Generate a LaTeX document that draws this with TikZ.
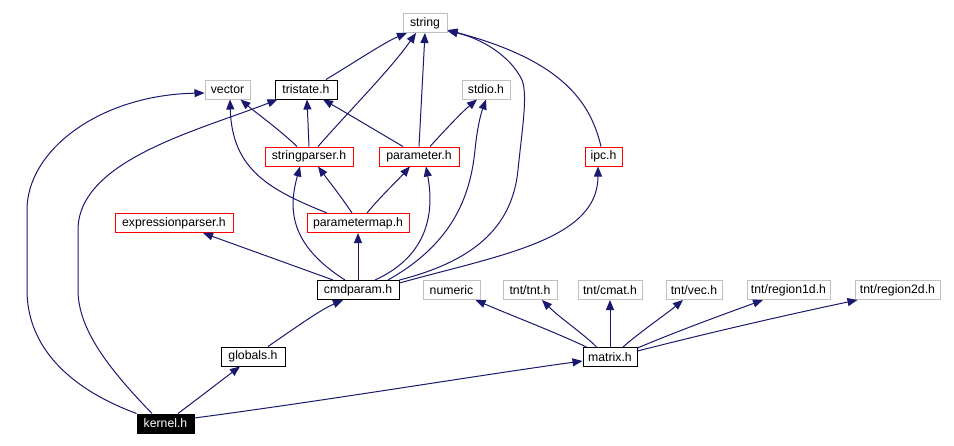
\documentclass[tikz,border=0pt]{standalone}
\usepackage{fontspec}
\setmainfont{Liberation Sans}
\usetikzlibrary{arrows.meta,calc}
\definecolor{edgec}{HTML}{191970}
\definecolor{extc}{HTML}{BFBFBF}
\begin{document}
\begin{tikzpicture}[x=0.75pt,y=-0.75pt,
  nd/.style={draw, rectangle, inner sep=0pt, minimum height=14.25pt, line width=0.75pt, font=\fontsize{9.2}{11}\selectfont, text=black},
  ext/.style={nd, draw=extc},
  blk/.style={nd, draw=black},
  rd/.style={nd, draw=red},
  kern/.style={nd, draw=black, fill=black, text=white},
  bw/.style={minimum width=#1*0.75pt},
  dep/.style={draw=edgec, line width=0.75pt, -{Triangle[length=7.5pt,width=6pt]}}
]
\fill[white] (0,0) rectangle (954,446);
\useasboundingbox (0,0) rectangle (954,446);

% nodes
\node[ext,bw=44] (string) at (425,23) {string};
\node[ext,bw=45] (vector) at (227.5,89.5) {vector};
\node[blk,bw=62] (tristate) at (306,89.5) {tristate.h};
\node[ext,bw=48] (stdio) at (486,89.5) {stdio.h};
\node[rd,bw=88] (stringparser) at (309,156.5) {stringparser.h};
\node[rd,bw=80] (parameter) at (419,156.5) {parameter.h};
\node[rd,bw=37] (ipc) at (603.5,156.5) {ipc.h};
\node[rd,bw=118] (exprparser) at (174,223) {expressionparser.h};
\node[rd,bw=102] (parametermap) at (358,223) {parametermap.h};
\node[blk,bw=82] (cmdparam) at (358,290) {cmdparam.h};
\node[ext,bw=57] (numeric) at (451.5,290) {numeric};
\node[ext,bw=54] (tnt) at (530,290) {tnt/tnt.h};
\node[ext,bw=64] (cmat) at (610,290) {tnt/cmat.h};
\node[ext,bw=56] (vec) at (694,290) {tnt/vec.h};
\node[ext,bw=83] (region1d) at (788.5,290) {tnt/region1d.h};
\node[ext,bw=85] (region2d) at (897.5,290) {tnt/region2d.h};
\node[blk,bw=64] (globals) at (253,356.5) {globals.h};
\node[blk,bw=54] (matrix) at (610,357) {matrix.h};
\node[kern,bw=57] (kernel) at (165.5,423.5) {kernel.h};

% edges to string
\draw[dep] ($(tristate.north)+(20,0)$) .. controls (355,62) and (385,42) .. ($(string.south)+(-18,0)$);
\draw[dep] ($(stringparser.north)+(9,0)$) .. controls (350,110) and (390,70) .. ($(string.south)+(-9,0)$);
\draw[dep] (parameter.north) -- (string.south);
\draw[dep] (cmdparam.north east) .. controls (470,262) and (512,230) .. (518,170)
  .. controls (522,130) and (528,95) .. (522,80)
  .. controls (510,55) and (480,38) .. ($(string.south east)+(0,-2)$);
\draw[dep] ($(ipc.north)+(-2.5,0)$) .. controls (590,100) and (560,60) .. ($(string.south east)+(0,-3)$);

% kernel long curves
\draw[dep] (kernel.north west) .. controls (60,385) and (27,340) .. (27,290) -- (27,210)
  .. controls (27,150) and (100,95) .. ($(vector.west)+(0,3.5)$);
\draw[dep] ($(kernel.north)+(-13.5,0)$) .. controls (110,370) and (78,330) .. (78,290) -- (78,230)
  .. controls (78,160) and (200,130) .. ($(tristate.south west)+(3,0)$);

% second level
\draw[dep] ($(stringparser.north)+(-12,0)$) .. controls (280,130) and (255,112) .. ($(vector.south east)+(-10,0)$);
\draw[dep] (stringparser.north) -- ($(tristate.south)+(1,0)$);
\draw[dep] ($(parameter.north)+(-16,0)$) .. controls (380,133) and (350,115) .. ($(tristate.south)+(17,0)$);
\draw[dep] ($(parameter.north)+(11,0)$) .. controls (445,130) and (462,112) .. ($(stdio.south)+(-9,0)$);

% parametermap
\draw[dep] ($(parametermap.north)+(-31,0)$) .. controls (270,190) and (232,170) .. ($(vector.south)+(2.5,0)$);
\draw[dep] ($(parametermap.north)+(-6,0)$) .. controls (340,195) and (328,180) .. ($(stringparser.south)+(9,0)$);
\draw[dep] ($(parametermap.north)+(9,0)$) .. controls (380,197) and (398,180) .. ($(parameter.south)+(-9,0)$);

% cmdparam
\draw[dep] ($(cmdparam.north)+(-13,0)$) .. controls (290,245) and (288,210) .. ($(stringparser.south)+(-9,0)$);
\draw[dep] ($(cmdparam.north)+(17,0)$) .. controls (430,255) and (434,210) .. ($(parameter.south)+(7,0)$);
\draw[dep] (cmdparam.north) -- (parametermap.south);
\draw[dep] ($(cmdparam.north)+(-25,0)$) .. controls (300,268) and (250,250) .. ($(exprparser.south)+(29,0)$);
\draw[dep] ($(cmdparam.north east)+(0,3)$) .. controls (500,255) and (598,240) .. ($(ipc.south)+(-5.5,0)$);
\draw[dep] ($(cmdparam.north)+(30,0)$) .. controls (450,245) and (470,200) .. (475,150)
  .. controls (478,120) and (483,108) .. (stdio.south);

% lower part
\draw[dep] ($(globals.north)+(15,0)$) .. controls (295,328) and (320,310) .. ($(cmdparam.south)+(-15,0)$);
\draw[dep] ($(kernel.north)+(12.5,0)$) .. controls (200,397) and (222,380) .. ($(globals.south)+(-13,0)$);
\draw[dep] ($(kernel.east)+(0,-5.5)$) .. controls (330,400) and (480,375) .. ($(matrix.west)+(0,4)$);

% matrix
\draw[dep] ($(matrix.north west)+(4,0)$) .. controls (550,330) and (510,315) .. ($(numeric.south east)+(-5,0)$);
\draw[dep] ($(matrix.north west)+(14,0)$) .. controls (585,335) and (560,318) .. ($(tnt.south)+(12,0)$);
\draw[dep] (matrix.north) -- (cmat.south);
\draw[dep] ($(matrix.north)+(13,0)$) .. controls (640,332) and (665,315) .. ($(vec.south)+(-11,0)$);
\draw[dep] ($(matrix.north east)+(0,1)$) .. controls (680,330) and (730,312) .. ($(region1d.south)+(-25.5,0)$);
\draw[dep] ($(matrix.north east)+(0,4)$) .. controls (720,330) and (800,312) .. ($(region2d.south west)+(3,0)$);
\end{tikzpicture}
\end{document}
